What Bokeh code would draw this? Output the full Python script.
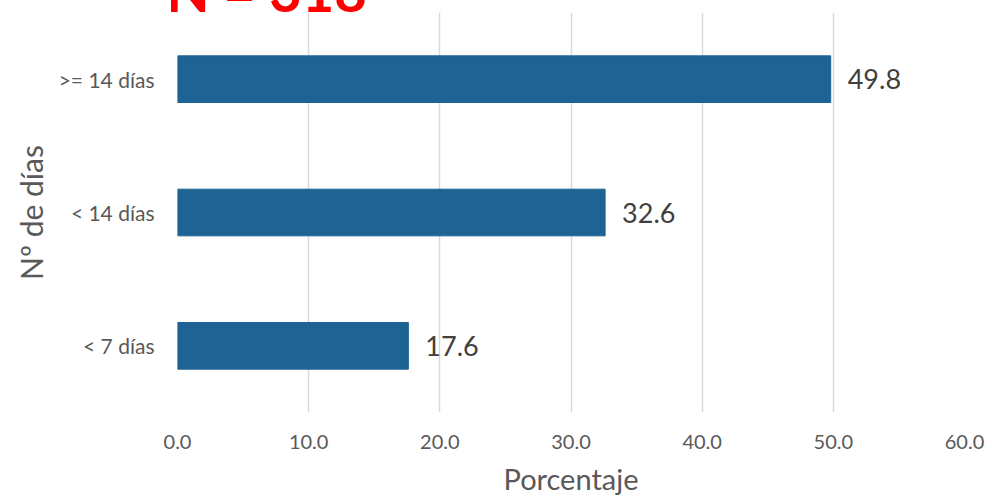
from bokeh.plotting import figure
from bokeh.models import ColumnDataSource, FactorRange, FixedTicker, PrintfTickFormatter, Label, Range1d
from bokeh.core.properties import value
from bokeh.embed import file_html
from bokeh.resources import INLINE

categories = ["< 7 días", "< 14 días", ">= 14 días"]
percentages = [17.6, 32.6, 49.8]
labels = ["17.6", "32.6", "49.8"]
x_ticks = [0, 10, 20, 30, 40, 50, 60]
title_text = "N = 318"
x_title = "Porcentaje"
y_title = "Nº de días"

FONT = "Lato"

src = ColumnDataSource(dict(cat=categories, val=percentages, lab=labels))

# The title sits above the plot area and is mostly cut off by the top edge of the
# picture, as in the source image: the top of the canvas is shifted above the page.
TOP_HIDDEN = 58
p = figure(width=992, height=498 + TOP_HIDDEN, output_backend="svg", toolbar_location=None,
           y_range=FactorRange(*categories, range_padding=0), x_range=Range1d(0, 60),
           min_border_left=177, min_border_right=28, min_border_top=70, min_border_bottom=86,
           margin=(-TOP_HIDDEN, 0, 0, 0))
p.outline_line_color = None
p.background_fill_color = "white"
p.border_fill_color = "white"

p.hbar(y="cat", right="val", left=0, height=0.35, source=src, color="#1f6394")
p.text(x="val", y="cat", text="lab", source=src, x_offset=17, text_baseline="middle",
       text_align="left", text_font=value(FONT), text_font_size="27px", text_color="#404040")

p.xaxis.ticker = FixedTicker(ticks=x_ticks)
p.xaxis.formatter = PrintfTickFormatter(format="%.1f")
p.xaxis.axis_label = x_title
p.yaxis.axis_label = y_title
for ax in (p.xaxis, p.yaxis):
    ax.axis_line_color = None
    ax.major_tick_line_color = None
    ax.minor_tick_line_color = None
    ax.major_tick_out = 0
    ax.major_tick_in = 0
    ax.minor_tick_out = 0
    ax.minor_tick_in = 0
    ax.major_label_text_color = "#595959"
    ax.major_label_text_font = FONT
    ax.axis_label_text_color = "#595959"
    ax.axis_label_text_font = FONT
    ax.axis_label_text_font_style = "normal"
p.xaxis.axis_label_text_font_size = "29px"
p.yaxis.axis_label_text_font_size = "30px"
p.xaxis.major_label_text_font_size = "20px"
p.yaxis.major_label_text_font_size = "21px"
p.xaxis.major_label_standoff = 22
p.xaxis.axis_label_standoff = 9
p.yaxis.major_label_standoff = 23
p.yaxis.axis_label_standoff = 7

p.xgrid.grid_line_color = "#d9d9d9"
p.xgrid.grid_line_width = 1.5
p.ygrid.grid_line_color = None

p.add_layout(Label(x=-0.84, y=3.0075, y_offset=21, text=title_text,
                   text_font=FONT, text_font_style="bold", text_font_size="56px",
                   text_color="#ff0000", text_baseline="alphabetic"), "above")

open("out.html", "w").write(file_html(p, INLINE))
